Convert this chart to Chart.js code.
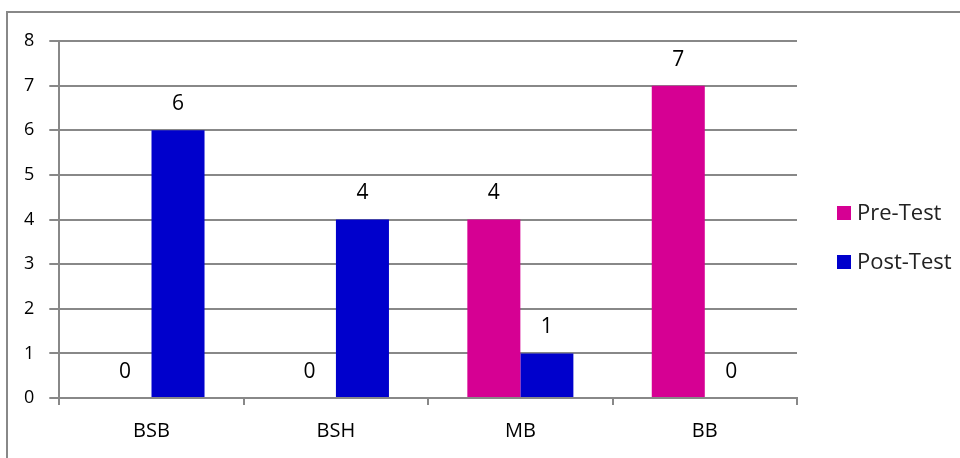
<!DOCTYPE html>
<html>
<head>
<meta charset="utf-8">
<script src="https://cdn.jsdelivr.net/npm/chart.js@4/dist/chart.umd.min.js"></script>
<style>
  html, body { margin: 0; padding: 0; background: #fff; }
  #wrap { width: 960px; height: 458px; }
</style>
</head>
<body>
<div id="wrap"><canvas id="Graph"></canvas></div>
<script>
const categories = ["BSB", "BSH", "MB", "BB"];
const preTest = [0, 0, 4, 7];
const postTest = [6, 4, 1, 0];
const yTicks = [0, 1, 2, 3, 4, 5, 6, 7, 8];

const gridColor = "#888888";
const fontName = "'Open Sans', 'DejaVu Sans', sans-serif";

// grey frame around the figure (only top and left edges are inside the picture)
const framePlugin = {
    id: "frame",
    beforeDraw(chart) {
        const c = chart.ctx;
        c.save();
        c.strokeStyle = gridColor;
        c.lineWidth = 2;
        c.strokeRect(7, 12, 1200, 1200);
        c.restore();
    }
};

// value above each bar, zeros included
const valueLabels = {
    id: "valueLabels",
    afterDatasetsDraw(chart) {
        const c = chart.ctx;
        c.save();
        c.font = "21px " + fontName;
        c.fillStyle = "#000";
        c.textAlign = "center";
        c.textBaseline = "middle";
        chart.data.datasets.forEach((ds, i) => {
            chart.getDatasetMeta(i).data.forEach((bar, j) => {
                c.fillText(ds.data[j], bar.x, bar.y - 26);
            });
        });
        c.restore();
    }
};

// legend on the right
const sideLegend = {
    id: "sideLegend",
    afterDraw(chart) {
        const c = chart.ctx;
        c.save();
        c.font = "22px " + fontName;
        c.textBaseline = "middle";
        c.textAlign = "left";
        chart.data.datasets.forEach((ds, i) => {
            const y = 213 + i * 49;
            c.fillStyle = ds.backgroundColor;
            c.fillRect(837, y - 7, 14, 14);
            c.fillStyle = "#222";
            c.fillText(ds.label, 857, y + 1);
        });
        c.restore();
    }
};

let ctx = document.getElementById("Graph");
let graph = new Chart(ctx, {
    type: 'bar',
    data: {
        labels: categories,
        datasets: [{
            label: "Pre-Test",
            backgroundColor: "#D60093",
            data: preTest
        },
        {
            label: "Post-Test",
            backgroundColor: "#0000CC",
            data: postTest
        }]
    },
    options: {
        responsive: true,
        maintainAspectRatio: false,
        animation: false,
        layout: {
            padding: { left: 9, right: 163, top: 41, bottom: 1 }
        },
        datasets: {
            bar: { categoryPercentage: 0.575, barPercentage: 1 }
        },
        plugins: {
            legend: { display: false },
            tooltip: { enabled: false }
        },
        scales: {
            x: {
                grid: {
                    offset: true,
                    drawOnChartArea: false,
                    color: gridColor,
                    lineWidth: 2,
                    tickLength: 7
                },
                border: { color: gridColor, width: 2 },
                ticks: {
                    color: "#000",
                    padding: 14,
                    font: { family: fontName, size: 20 }
                }
            },
            y: {
                min: 0,
                max: 8,
                afterBuildTicks(axis) {
                    axis.ticks = yTicks.map(v => ({ value: v }));
                },
                grid: {
                    color: gridColor,
                    lineWidth: 2,
                    tickLength: 10
                },
                border: { color: gridColor, width: 2 },
                ticks: {
                    color: "#000",
                    padding: 15,
                    font: { family: fontName, size: 18 }
                }
            }
        }
    },
    plugins: [framePlugin, valueLabels, sideLegend]
});
</script>
</body>
</html>
